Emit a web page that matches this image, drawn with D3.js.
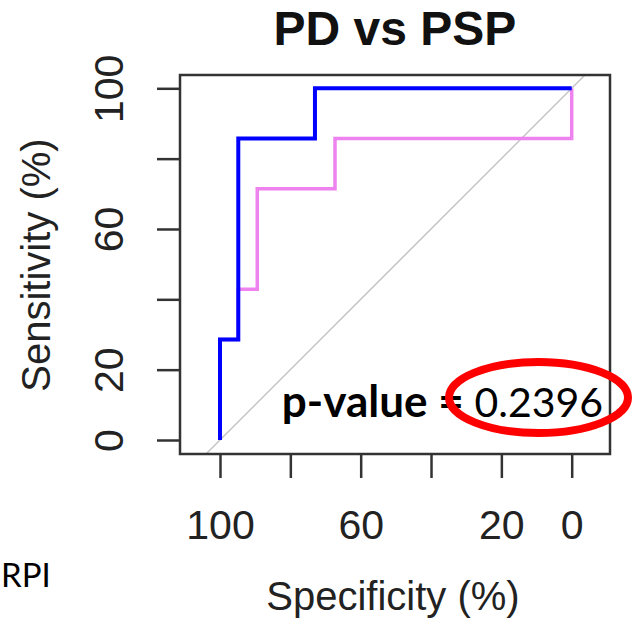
<!DOCTYPE html>
<html>
<head>
<meta charset="utf-8">
<title>PD vs PSP</title>
<style>
  body { margin: 0; background: #fff; }
  text { font-family: "Liberation Sans", Arial, sans-serif; }
</style>
</head>
<body>
<script src="https://cdn.jsdelivr.net/npm/d3@7"></script>
<script>

// ROC curves (specificity %, sensitivity %)
var blueSpec = [100, 100, 94.8, 94.8, 73.0, 73.0, 0];
var blueSens = [0, 28.57, 28.57, 85.71, 85.71, 100, 100];
var pinkSpec = [100, 100, 94.8, 94.8, 89.4, 89.4, 67.3, 67.3, 0, 0];
var pinkSens = [0, 28.57, 28.57, 42.86, 42.86, 71.43, 71.43, 85.71, 85.71, 100];

var xTicks = [100, 80, 60, 40, 20, 0];
var xTickLabels = ["100", "", "60", "", "20", "0"];
var yTicks = [0, 20, 40, 60, 80, 100];
var yTickLabels = ["0", "20", "", "60", "", "100"];

var width = 633;
var height = 625;

var svg = d3.select("body")
  .append("svg")
  .attr("width", width)
  .attr("height", height);

// scales: data -> pixels
var x = d3.scaleLinear().domain([100, 0]).range([220, 571.7]);
var y = d3.scaleLinear().domain([0, 100]).range([440, 88.3]);

// plot box
var box = { left: 180, right: 610, top: 75, bottom: 454 };

// diagonal (spec + sens = 100), spanning the box
var sLow = y.invert(box.bottom), sHigh = y.invert(box.top);
svg.append("line")
  .attr("x1", x(100 - sLow)).attr("y1", y(sLow))
  .attr("x2", x(100 - sHigh)).attr("y2", y(sHigh))
  .attr("stroke", "#c4c4c4")
  .attr("stroke-width", 1.5);

var line = d3.line()
  .x(function(d) { return x(d[0]); })
  .y(function(d) { return y(d[1]); });

svg.append("path")
  .datum(d3.zip(pinkSpec, pinkSens))
  .attr("d", line)
  .attr("fill", "none")
  .attr("stroke", "#ee82ee")
  .attr("stroke-width", 3.5);

svg.append("path")
  .datum(d3.zip(blueSpec, blueSens))
  .attr("d", line)
  .attr("fill", "none")
  .attr("stroke", "#0000ff")
  .attr("stroke-width", 4);

svg.append("rect")
  .attr("x", box.left).attr("y", box.top)
  .attr("width", box.right - box.left)
  .attr("height", box.bottom - box.top)
  .attr("fill", "none")
  .attr("stroke", "#333")
  .attr("stroke-width", 2.5);

// x axis
var xAxis = d3.axisBottom(x)
  .tickValues(xTicks)
  .tickSize(24)
  .tickPadding(32)
  .tickFormat(function(d, i) { return xTickLabels[i]; });

var gx = svg.append("g")
  .attr("transform", "translate(0," + box.bottom + ")")
  .call(xAxis);
gx.select(".domain").remove();
gx.selectAll(".tick line").attr("stroke", "#333").attr("stroke-width", 2.5);
gx.selectAll(".tick text")
  .attr("fill", "#222")
  .style("font-size", "41px")
  .style("font-family", "Liberation Sans, Arial, sans-serif");

// y axis
var yAxis = d3.axisLeft(y)
  .tickValues(yTicks)
  .tickSize(23)
  .tickFormat(function(d, i) { return yTickLabels[i]; });

var gy = svg.append("g")
  .attr("transform", "translate(" + box.left + ",0)")
  .call(yAxis);
gy.select(".domain").remove();
gy.selectAll(".tick line").attr("stroke", "#333").attr("stroke-width", 2.5);
gy.selectAll(".tick text")
  .attr("fill", "#222")
  .attr("x", 0).attr("dy", null)
  .attr("text-anchor", "middle")
  .attr("transform", "translate(-57,0) rotate(-90)")
  .style("font-size", "41px")
  .style("font-family", "Liberation Sans, Arial, sans-serif");

// titles
svg.append("text")
  .attr("x", 395).attr("y", 45)
  .attr("text-anchor", "middle")
  .attr("font-weight", "bold")
  .attr("font-size", 48)
  .attr("fill", "#111")
  .text("PD vs PSP");

svg.append("text")
  .attr("x", 393).attr("y", 610)
  .attr("text-anchor", "middle")
  .attr("font-size", 40)
  .attr("fill", "#222")
  .text("Specificity (%)");

svg.append("text")
  .attr("transform", "translate(50,265) rotate(-90)")
  .attr("text-anchor", "middle")
  .attr("font-size", 40)
  .attr("fill", "#222")
  .text("Sensitivity (%)");

// p-value annotation
var pv = svg.append("text")
  .attr("x", 603).attr("y", 417)
  .attr("text-anchor", "end")
  .style("font-family", "Lato, 'Open Sans', sans-serif")
  .attr("font-size", 41)
  .attr("fill", "#000");
pv.append("tspan").attr("font-weight", "bold").attr("font-size", 44).text("p-value = ");
pv.append("tspan").text("0.2396");

svg.append("ellipse")
  .attr("cx", 538.5).attr("cy", 397.5)
  .attr("rx", 89.5).attr("ry", 35.5)
  .attr("fill", "none")
  .attr("stroke", "#ff0000")
  .attr("stroke-width", 8);

svg.append("text")
  .attr("x", 1).attr("y", 587)
  .attr("text-anchor", "start")
  .style("font-family", "Lato, 'Open Sans', sans-serif")
  .attr("font-size", 33)
  .attr("fill", "#000")
  .text("RPI");

</script>
</body>
</html>
